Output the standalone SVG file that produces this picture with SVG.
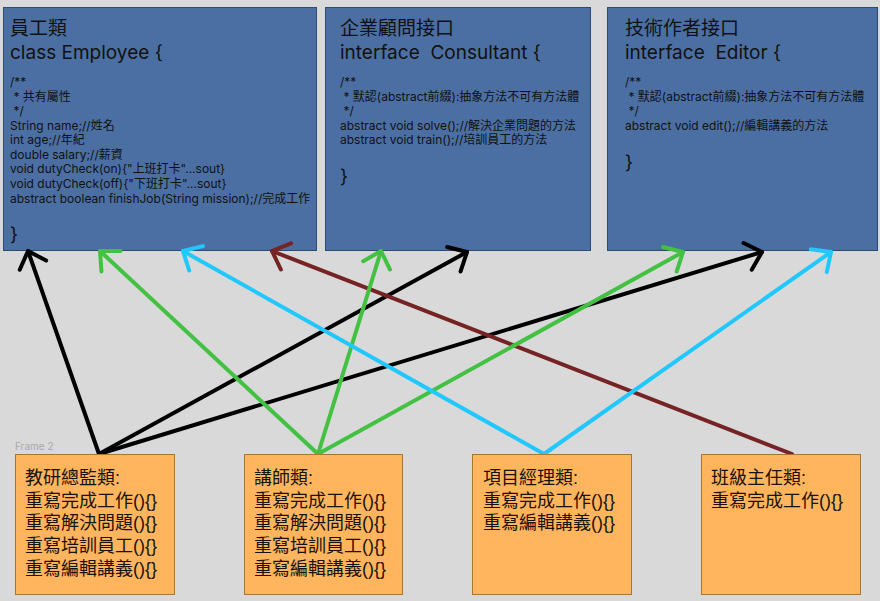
<svg xmlns="http://www.w3.org/2000/svg" width="880" height="601" viewBox="0 0 880 601">
<style>
.bg{fill:#d9d9d9}
.blue{fill:#4b6fa3;stroke:#2e4a72;stroke-width:1}
.org{fill:#ffb45e;stroke:#a8772f;stroke-width:1}
.t{font-family:Inter,"Noto Sans CJK TC",sans-serif;fill:#111;font-size:19px}
.c{font-family:Inter,"Noto Sans CJK TC",sans-serif;fill:#111;font-size:12px}
.o{font-family:"Liberation Sans","Noto Sans CJK TC",sans-serif;fill:#1a1208;font-size:18px}
.f{font-family:Inter,sans-serif;fill:#a8a8a8;font-size:10px}
.ln{fill:none;stroke-width:4;stroke-linecap:round;stroke-linejoin:round}
</style>
<defs>
<marker id="mk" markerUnits="userSpaceOnUse" viewBox="-20 -20 24 40" refX="0" refY="0" markerWidth="24" markerHeight="40" orient="auto" overflow="visible"><path d="M-15 -14 L0 0 L-15 14" fill="none" stroke="#000" stroke-width="4" stroke-linecap="round" stroke-linejoin="round"/></marker>
<marker id="mg" markerUnits="userSpaceOnUse" viewBox="-20 -20 24 40" refX="0" refY="0" markerWidth="24" markerHeight="40" orient="auto" overflow="visible"><path d="M-15 -14 L0 0 L-15 14" fill="none" stroke="#43c143" stroke-width="4" stroke-linecap="round" stroke-linejoin="round"/></marker>
<marker id="mc" markerUnits="userSpaceOnUse" viewBox="-20 -20 24 40" refX="0" refY="0" markerWidth="24" markerHeight="40" orient="auto" overflow="visible"><path d="M-15 -14 L0 0 L-15 14" fill="none" stroke="#20c8ff" stroke-width="4" stroke-linecap="round" stroke-linejoin="round"/></marker>
<marker id="mr" markerUnits="userSpaceOnUse" viewBox="-20 -20 24 40" refX="0" refY="0" markerWidth="24" markerHeight="40" orient="auto" overflow="visible"><path d="M-15 -14 L0 0 L-15 14" fill="none" stroke="#762323" stroke-width="4" stroke-linecap="round" stroke-linejoin="round"/></marker>
</defs>
<rect class="bg" x="0" y="0" width="880" height="601"/>

<g id="employee">
<rect class="blue" x="3.5" y="7.5" width="313" height="243"/>
<text class="t" x="10" y="35">員工類</text>
<text class="t" x="10" y="59">class Employee {</text>
<text class="c" x="10" y="86">/**</text>
<text class="c" x="10" y="101" xml:space="preserve"> * 共有屬性</text>
<text class="c" x="10" y="115" xml:space="preserve"> */</text>
<text class="c" x="10" y="130">String name;//姓名</text>
<text class="c" x="10" y="144">int age;//年紀</text>
<text class="c" x="10" y="159">double salary;//薪資</text>
<text class="c" x="10" y="173">void dutyCheck(on){"上班打卡"...sout}</text>
<text class="c" x="10" y="188">void dutyCheck(off){"下班打卡"...sout}</text>
<text class="c" x="10" y="203">abstract boolean finishJob(String mission);//完成工作</text>
<text class="t" x="10" y="241">}</text>
</g>

<g id="consultant">
<rect class="blue" x="325.5" y="7.5" width="265" height="243"/>
<text class="t" x="340" y="35">企業顧問接口</text>
<text class="t" x="340" y="59" xml:space="preserve">interface  Consultant {</text>
<text class="c" x="340" y="86">/**</text>
<text class="c" x="340" y="101" xml:space="preserve"> * 默認(abstract前綴):抽象方法不可有方法體</text>
<text class="c" x="340" y="115" xml:space="preserve"> */</text>
<text class="c" x="340" y="130">abstract void solve();//解決企業問題的方法</text>
<text class="c" x="340" y="144">abstract void train();//培訓員工的方法</text>
<text class="t" x="340" y="183">}</text>
</g>

<g id="editor">
<rect class="blue" x="607.5" y="7.5" width="270" height="243"/>
<text class="t" x="625" y="35">技術作者接口</text>
<text class="t" x="625" y="59" xml:space="preserve">interface  Editor {</text>
<text class="c" x="625" y="86">/**</text>
<text class="c" x="625" y="101" xml:space="preserve"> * 默認(abstract前綴):抽象方法不可有方法體</text>
<text class="c" x="625" y="115" xml:space="preserve"> */</text>
<text class="c" x="625" y="130">abstract void edit();//編輯講義的方法</text>
<text class="t" x="625" y="169">}</text>
</g>

<text class="f" x="15" y="450">Frame 2</text>

<g id="connectors">
<line class="ln" stroke="#000" x1="99" y1="454" x2="28" y2="251" marker-end="url(#mk)"/>
<line class="ln" stroke="#000" x1="99" y1="454" x2="467" y2="252" marker-end="url(#mk)"/>
<line class="ln" stroke="#000" x1="99" y1="454" x2="762" y2="252" marker-end="url(#mk)"/>
<line class="ln" stroke="#762323" x1="792" y1="454" x2="272" y2="251" marker-end="url(#mr)"/>
<line class="ln" stroke="#43c143" x1="318" y1="454" x2="100" y2="251" marker-end="url(#mg)"/>
<line class="ln" stroke="#43c143" x1="318" y1="454" x2="381" y2="251" marker-end="url(#mg)"/>
<line class="ln" stroke="#43c143" x1="318" y1="454" x2="683" y2="252" marker-end="url(#mg)"/>
<line class="ln" stroke="#20c8ff" x1="544" y1="454" x2="183" y2="251" marker-end="url(#mc)"/>
<line class="ln" stroke="#20c8ff" x1="544" y1="454" x2="831" y2="252" marker-end="url(#mc)"/>
</g>

<g id="director">
<rect class="org" x="15.5" y="454.5" width="159" height="140"/>
<text class="o" x="25" y="484">教研總監類:</text>
<text class="o" x="25" y="507">重寫完成工作(){}</text>
<text class="o" x="25" y="529">重寫解決問題(){}</text>
<text class="o" x="25" y="552">重寫培訓員工(){}</text>
<text class="o" x="25" y="575">重寫編輯講義(){}</text>
</g>

<g id="lecturer">
<rect class="org" x="244.5" y="454.5" width="158" height="140"/>
<text class="o" x="254" y="484">講師類:</text>
<text class="o" x="254" y="507">重寫完成工作(){}</text>
<text class="o" x="254" y="529">重寫解決問題(){}</text>
<text class="o" x="254" y="552">重寫培訓員工(){}</text>
<text class="o" x="254" y="575">重寫編輯講義(){}</text>
</g>

<g id="pm">
<rect class="org" x="472.5" y="454.5" width="159" height="140"/>
<text class="o" x="483" y="484">項目經理類:</text>
<text class="o" x="483" y="507">重寫完成工作(){}</text>
<text class="o" x="483" y="529">重寫編輯講義(){}</text>
</g>

<g id="classteacher">
<rect class="org" x="701.5" y="454.5" width="159" height="140"/>
<text class="o" x="711" y="484">班級主任類:</text>
<text class="o" x="711" y="507">重寫完成工作(){}</text>
</g>
</svg>
